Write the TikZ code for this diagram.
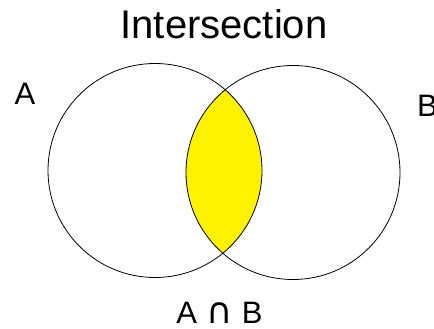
\documentclass[tikz,border=0pt]{standalone}
\usepackage{fontspec}
\setmainfont{Liberation Sans}
\newfontfamily\symbfont{DejaVu Sans}
\usetikzlibrary{positioning}

\begin{document}
\begin{tikzpicture}[x=1pt, y=-1pt]
    % Style definitions
    \tikzset{setcircle/.style={draw, circle, minimum size=214pt, inner sep=0pt, line width=0.8pt}}
    \tikzset{setlabel/.style={font=\fontsize{31}{31}\selectfont, inner sep=0pt}}
    \tikzset{titletext/.style={font=\fontsize{40}{40}\selectfont, inner sep=0pt}}

    \useasboundingbox (0,0) rectangle (434,329);

    % Centres of the two sets
    \coordinate (ca) at (155,170.5);
    \coordinate (cb) at (293,172.5);

    % Intersection (filled lens)
    \begin{scope}
        \clip (ca) circle [radius=107pt];
        \fill [yellow] (cb) circle [radius=107pt];
    \end{scope}

    % Nodes
    \node [setcircle] (setA) at (ca) {};
    \node [setcircle] (setB) at (cb) {};
    \node [titletext, anchor=base] (title) at (224,39) {Intersection};
    \node [setlabel, anchor=base] (labA) at (25,105) {A};
    \node [setlabel, anchor=base west] (labB) at (417,117) {B};
    \node [setlabel, anchor=base] (labAB) at (219.5,323.5) {A\hspace{0.3em}{\symbfont\fontsize{36}{36}\selectfont ∩}\hspace{0.3em}B};
\end{tikzpicture}
\end{document}
